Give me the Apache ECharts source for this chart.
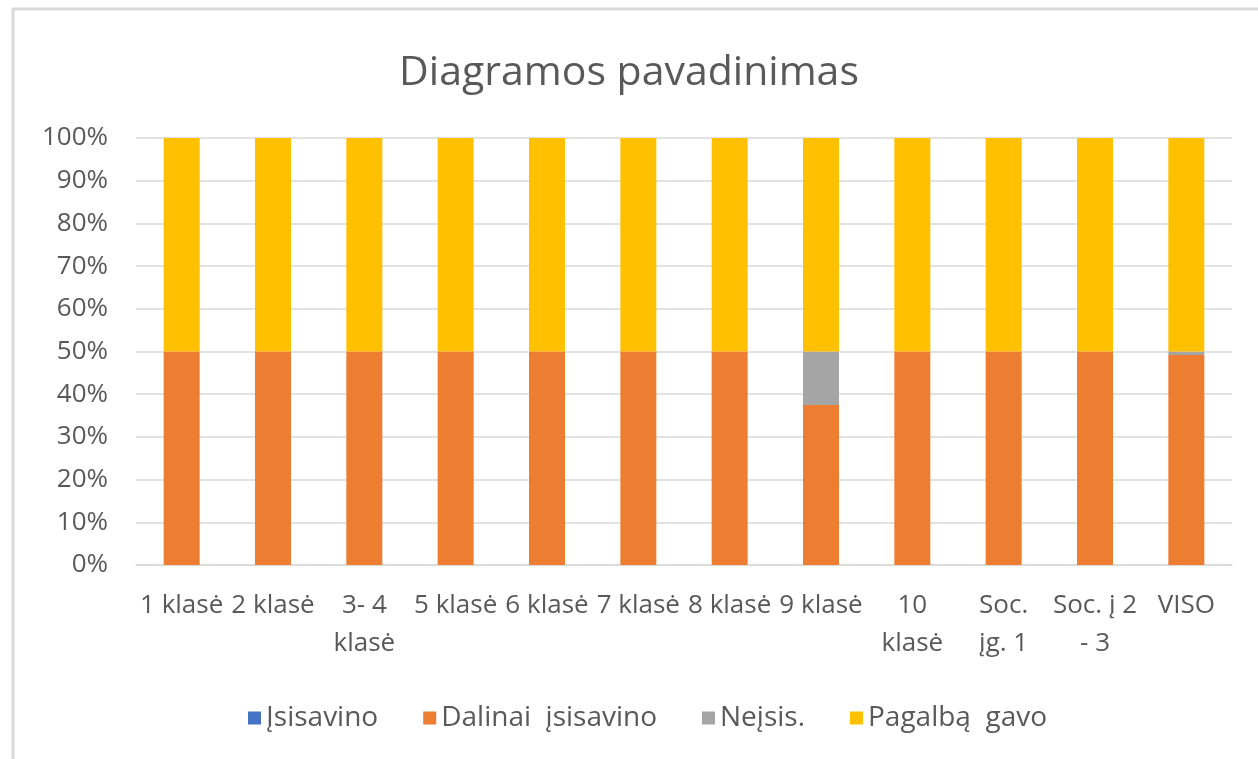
<!DOCTYPE html>
<html>
<head>
<meta charset="utf-8">
<script src="https://cdn.jsdelivr.net/npm/echarts@6/dist/echarts.min.js"></script>
<style>
  html, body { margin: 0; padding: 0; background: #fff; }
  #chart { width: 1258px; height: 759px; }
</style>
</head>
<body>
<div id="chart"></div>
<script>
// kategorijos (su eilučių laužymu kaip originale)
const categories = ['1 klasė', '2 klasė', '3- 4\nklasė', '5 klasė', '6 klasė', '7 klasė',
  '8 klasė', '9 klasė', '10\nklasė', 'Soc.\nįg. 1', 'Soc. į 2\n- 3', 'VISO'];

const isisavino = [0, 0, 0, 0, 0, 0, 0, 0, 0, 0, 0, 0];
const dalinai = [50, 50, 50, 50, 50, 50, 50, 37.5, 50, 50, 50, 49.2];
const neisis = [0, 0, 0, 0, 0, 0, 0, 12.5, 0, 0, 0, 0.8];
const pagalba = [50, 50, 50, 50, 50, 50, 50, 50, 50, 50, 50, 50];

const yTicks = [0, 10, 20, 30, 40, 50, 60, 70, 80, 90, 100];

const font = '"Open Sans", "Noto Sans", sans-serif';
const textColor = '#595959';

const myChart = echarts.init(document.getElementById('chart'));

function bar(name, data, color) {
  return {
    name: name,
    type: 'bar',
    stack: 'viso',
    barWidth: 36,
    data: data,
    itemStyle: { color: color },
    emphasis: { disabled: true }
  };
}

myChart.setOption({
  animation: false,
  backgroundColor: '#fff',
  graphic: [{
    type: 'rect',
    shape: { x: 13, y: 9, width: 1300, height: 800 },
    style: { fill: 'none', stroke: '#d9d9d9', lineWidth: 3 },
    silent: true
  }],
  title: {
    text: 'Diagramos pavadinimas',
    left: 'center',
    top: 48,
    textStyle: { fontFamily: font, fontSize: 41, fontWeight: 'normal', color: textColor }
  },
  legend: {
    left: 243,
    top: 699,
    itemWidth: 13,
    itemHeight: 13,
    itemGap: 45,
    icon: 'rect',
    textStyle: { fontFamily: font, fontSize: 28, color: textColor }
  },
  grid: { left: 136, right: 26, top: 138, bottom: 194, containLabel: false },
  xAxis: {
    type: 'category',
    data: categories,
    axisLine: { lineStyle: { color: '#d9d9d9', width: 1.5 } },
    axisTick: { show: false },
    axisLabel: {
      interval: 0,
      margin: 22,
      fontFamily: font,
      fontSize: 26,
      color: textColor,
      lineHeight: 38
    }
  },
  yAxis: {
    type: 'value',
    min: 0,
    max: 100,
    interval: 10,
    axisLine: { show: false },
    axisTick: { show: false },
    splitLine: { lineStyle: { color: '#d9d9d9', width: 1.5 } },
    axisLabel: {
      margin: 28,
      fontFamily: font,
      fontSize: 26,
      color: textColor,
      formatter: function (v) { return yTicks.indexOf(v) >= 0 ? v + '%' : ''; }
    }
  },
  series: [
    bar('Įsisavino', isisavino, '#4472c4'),
    bar('Dalinai  įsisavino', dalinai, '#ed7d31'),
    bar('Neįsis.', neisis, '#a5a5a5'),
    bar('Pagalbą  gavo', pagalba, '#ffc000')
  ]
});
</script>
</body>
</html>
